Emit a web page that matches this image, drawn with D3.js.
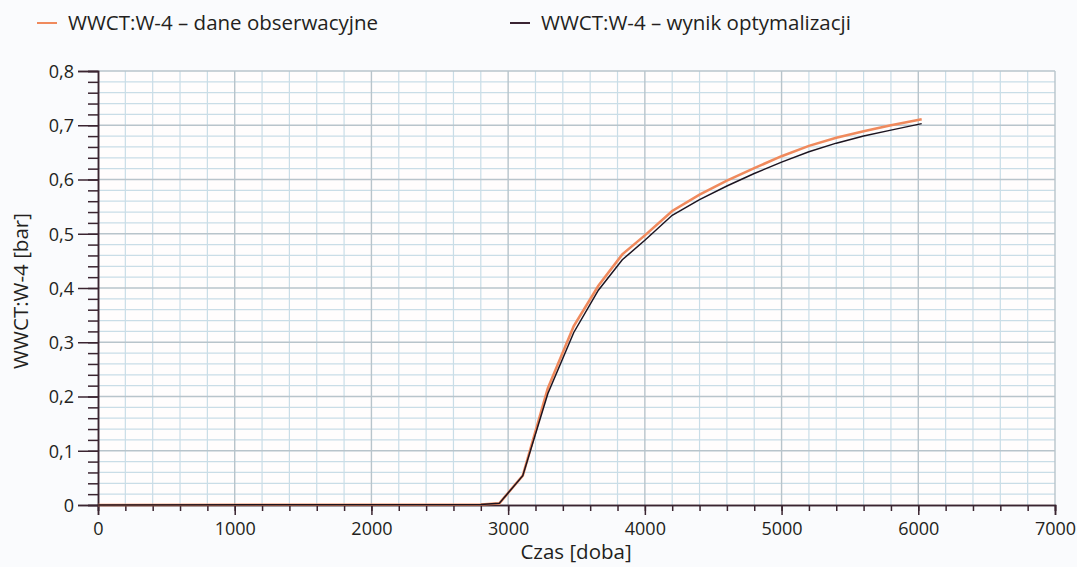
<!DOCTYPE html>
<html>
<head>
<meta charset="utf-8">
<script src="https://cdn.jsdelivr.net/npm/d3@7"></script>
<style>
  body { margin: 0; background: #fafbfd; }
  text { font-family: "Open Sans", sans-serif; fill: #231f20; }
</style>
</head>
<body>
<div id="chart"></div>
<script>
// data
const days = [0, 2800, 2935, 3107, 3290, 3480, 3660, 3835, 4000, 4200, 4400, 4600, 4800, 5000, 5200, 5400, 5600, 5800, 6025];
const observed = [0, 0.001, 0.003, 0.054, 0.215, 0.330, 0.404, 0.462, 0.497, 0.542, 0.572, 0.598, 0.621, 0.643, 0.662, 0.677, 0.689, 0.700, 0.711];
const optimized = [0, 0.001, 0.003, 0.054, 0.205, 0.318, 0.396, 0.452, 0.488, 0.534, 0.563, 0.588, 0.611, 0.632, 0.651, 0.667, 0.680, 0.691, 0.703];
const seriesNames = ["WWCT:W-4 – dane obserwacyjne", "WWCT:W-4 – wynik optymalizacji"];
const seriesColors = ["#f08a5d", "#1c1420"];
const xTicks = [0, 1000, 2000, 3000, 4000, 5000, 6000, 7000];
const yTicks = [0, 0.1, 0.2, 0.3, 0.4, 0.5, 0.6, 0.7, 0.8];

const margin = {top: 71, right: 22, bottom: 62, left: 98},
  width = 1077 - margin.left - margin.right,
  height = 567 - margin.top - margin.bottom;

const svg = d3.select("#chart").append("svg")
  .attr("width", 1077).attr("height", 567);
const g = svg.append("g").attr("transform", `translate(${margin.left},${margin.top})`);

const x = d3.scaleLinear().domain([0, 7000]).range([0, width]);
const y = d3.scaleLinear().domain([0, 0.8]).range([height, 0]);

g.append("rect").attr("width", width).attr("height", height).attr("fill", "#fffdfd");

const xMinor = d3.range(0, 7001, 200);
const yMinor = d3.range(0, 41).map(i => i * 0.02);

// minor grid
g.append("g").selectAll("line").data(xMinor.filter(d => d % 1000 !== 0)).join("line")
  .attr("x1", d => x(d)).attr("x2", d => x(d)).attr("y1", 0).attr("y2", height)
  .attr("stroke", "#c9dde7").attr("stroke-width", 1.2);
g.append("g").selectAll("line").data(yMinor.filter((d, i) => i % 5 !== 0)).join("line")
  .attr("x1", 0).attr("x2", width).attr("y1", d => y(d)).attr("y2", d => y(d))
  .attr("stroke", "#c9dde7").attr("stroke-width", 1.2);
// major grid
g.append("g").selectAll("line").data(xTicks.slice(1)).join("line")
  .attr("x1", d => x(d)).attr("x2", d => x(d)).attr("y1", 0).attr("y2", height)
  .attr("stroke", "#b8c4cb").attr("stroke-width", 1.4);
g.append("g").selectAll("line").data(yTicks.slice(1)).join("line")
  .attr("x1", 0).attr("x2", width).attr("y1", d => y(d)).attr("y2", d => y(d))
  .attr("stroke", "#b8c4cb").attr("stroke-width", 1.4);

// axes
const yMinorAxis = g.append("g")
  .call(d3.axisLeft(y).tickValues(yMinor).tickSize(10).tickFormat(""));
const yAxis = g.append("g")
  .call(d3.axisLeft(y).tickValues(yTicks).tickSize(20).tickPadding(4)
    .tickFormat(d => d3.format(".1~f")(d).replace(".", ",")));
const xMinorAxis = g.append("g").attr("transform", `translate(0,${height})`)
  .call(d3.axisBottom(x).tickValues(xMinor).tickSize(6).tickFormat(""));
const xAxis = g.append("g").attr("transform", `translate(0,${height})`)
  .call(d3.axisBottom(x).tickValues(xTicks).tickSize(10).tickPadding(7).tickFormat(d3.format("d")));

[yMinorAxis, yAxis, xMinorAxis, xAxis].forEach(a => {
  a.select(".domain").attr("stroke", "#3a2430").attr("stroke-width", 1.5);
  a.selectAll(".tick line").attr("stroke", "#3a2430").attr("stroke-width", 1.5);
  a.selectAll(".tick text").style("font-size", "18px").attr("fill", "#231f20");
});
yAxis.selectAll(".tick text").attr("dy", "0.35em");

// lines
const line = d3.line().x(d => x(d[0])).y(d => y(d[1]));
g.append("path").datum(days.map((d, i) => [d, observed[i]]))
  .attr("d", line).attr("fill", "none")
  .attr("stroke", seriesColors[0]).attr("stroke-width", 2.6);
g.append("path").datum(days.map((d, i) => [d, optimized[i]]))
  .attr("d", line).attr("fill", "none")
  .attr("stroke", seriesColors[1]).attr("stroke-width", 1.5);

// axis labels
svg.append("text").attr("x", 576).attr("y", 559)
  .attr("text-anchor", "middle").style("font-size", "20.5px").text("Czas [doba]");
svg.append("text").attr("transform", `translate(28,${margin.top + height / 2 + 3}) rotate(-90)`)
  .attr("text-anchor", "middle").style("font-size", "20.5px").text("WWCT:W-4 [bar]");

// legend
const legendX = [37, 510];
seriesNames.forEach((name, i) => {
  svg.append("line").attr("x1", legendX[i]).attr("x2", legendX[i] + 20)
    .attr("y1", 23).attr("y2", 23)
    .attr("stroke", i === 0 ? seriesColors[0] : "#3a2433").attr("stroke-width", 2);
  svg.append("text").attr("x", legendX[i] + 31).attr("y", 30)
    .style("font-size", "20.5px").text(name);
});
</script>
</body>
</html>
